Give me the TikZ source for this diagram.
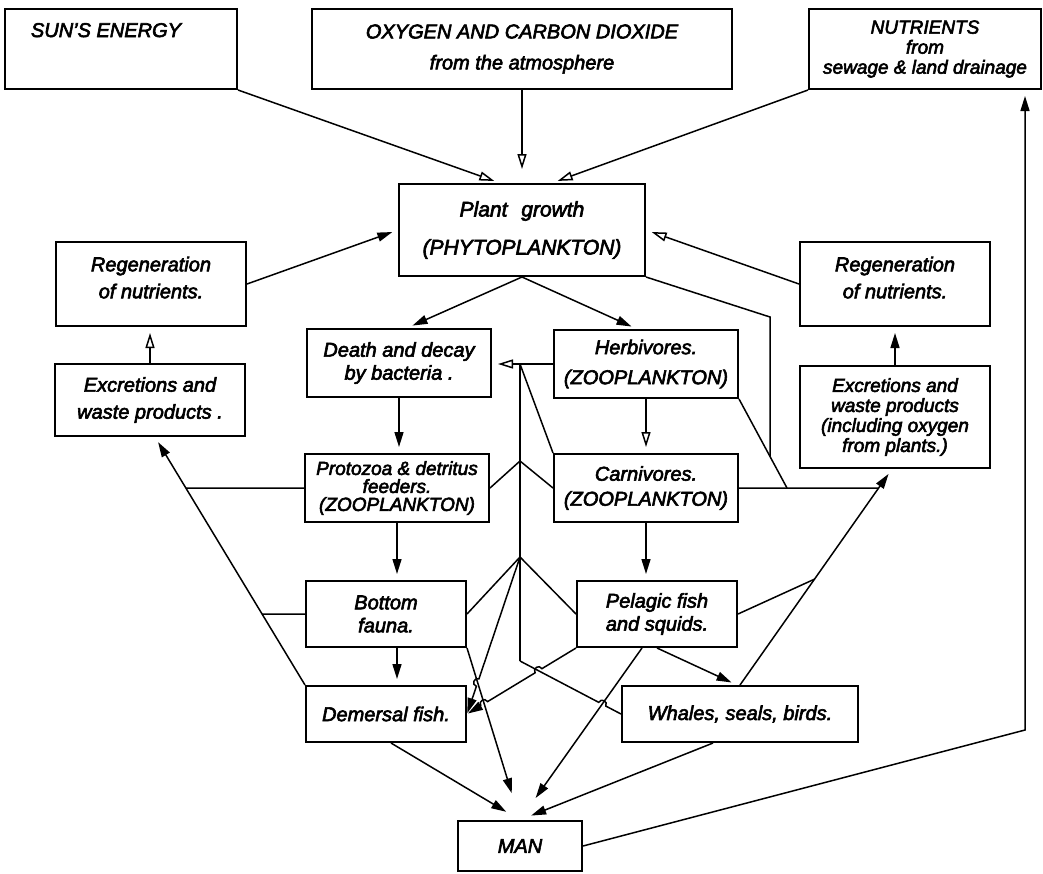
\documentclass[tikz,border=0pt]{standalone}
\usepackage{fontspec}
\setmainfont{Liberation Sans}[ItalicFeatures={FakeBold=3}]
\usepackage{tikz}
\usetikzlibrary{arrows.meta,calc}
\tikzset{
  box/.style={draw, line width=2pt, inner sep=0pt, align=center,
    font=\fontsize{20}{23}\selectfont\itshape},
  link/.style={line width=1.5pt},
  arr/.style={link, -{Triangle[length=15pt,width=9pt]}, shorten >=6pt},
  oarr/.style={link, -{Triangle[open,length=15pt,width=9pt]}, shorten >=6pt},
  hopL/.style={bend left=90, looseness=1.7},
  hopR/.style={bend right=90, looseness=1.7}
}

\begin{document}
\begin{tikzpicture}[x=1pt, y=-1pt]
        \useasboundingbox (0,0) rectangle (1043,873);
        % sources at the top
        \node[box, minimum width=232pt, minimum height=80pt] (sun) at (121,49) {SUN'S ENERGY\hspace*{30pt}\\[8pt]\strut};
        \node[box, minimum width=420pt, minimum height=80pt] (atmos) at (522,49) {OXYGEN AND CARBON DIOXIDE\\[8pt]from the atmosphere};
        \node[box, minimum width=232pt, minimum height=80pt, font=\fontsize{19}{20}\selectfont\itshape] (nutri) at (925,49) {NUTRIENTS\\from\\sewage \& land drainage};
        % plankton and the food chain
        \node[box, minimum width=246pt, minimum height=92pt, font=\fontsize{21}{24}\selectfont\itshape] (plant) at (522,230) {Plant\hspace{8pt} growth\\[14pt](PHYTOPLANKTON)};
        \node[box, minimum width=190pt, minimum height=84pt] (regenL) at (151,284) {Regeneration\\[4pt]of nutrients.\\[-10pt]};
        \node[box, minimum width=190pt, minimum height=84pt] (regenR) at (895,284) {Regeneration\\[4pt]of nutrients.\\[-10pt]};
        \node[box, minimum width=190pt, minimum height=72pt] (excrL) at (150,400) {Excretions and\\[4pt]waste products .};
        \node[box, minimum width=184pt, minimum height=68pt] (decay) at (399,363) {Death and decay\\by bacteria .};
        \node[box, minimum width=184pt, minimum height=68pt] (herbi) at (646,364) {Herbivores.\\[7pt](ZOOPLANKTON)};
        \node[box, minimum width=190pt, minimum height=102pt, font=\fontsize{19}{20}\selectfont\itshape] (excrR) at (895,417) {Excretions and\\waste products\\(including oxygen\\from plants.)};
        \node[box, minimum width=184pt, minimum height=68pt, font=\fontsize{19}{18}\selectfont\itshape] (proto) at (397,488) {Protozoa \& detritus\\feeders.\\(ZOOPLANKTON)};
        \node[box, minimum width=184pt, minimum height=68pt] (carni) at (646,488) {Carnivores.\\[2pt](ZOOPLANKTON)};
        \node[box, minimum width=160pt, minimum height=66pt] (bottom) at (386,614) {Bottom\\fauna.};
        \node[box, minimum width=160pt, minimum height=66pt] (pelagic) at (657,614) {Pelagic fish\\and squids.};
        \node[box, minimum width=160pt, minimum height=56pt] (demersal) at (386,714) {Demersal fish.};
        \node[box, minimum width=236pt, minimum height=56pt] (whales) at (740,714) {Whales, seals, birds.};
        \node[box, minimum width=124pt, minimum height=50pt] (man) at (520,846) {MAN};

        % into the phytoplankton
        \draw[oarr] (sun.south east) -- ([xshift=-22pt]plant.north);
        \draw[oarr, shorten >=14pt] (atmos.south) -- (plant.north);
        \draw[oarr] (nutri.south west) -- ([xshift=30pt]plant.north);
        \draw[arr] (regenL.east) -- (plant.west);
        \draw[oarr] (regenR.west) -- (plant.east);

        % the two chains
        \draw[arr] (plant.south) -- ([xshift=8pt]decay.north);
        \draw[arr] (plant.south) -- ([xshift=-9pt]herbi.north);
        \draw[arr] (decay.south) -- (decay.south |- proto.north);
        \draw[arr] (proto.south) -- (proto.south |- bottom.north);
        \draw[arr] (proto.south |- bottom.south) -- (proto.south |- demersal.north);
        \draw[oarr] (herbi.south) -- (carni.north);
        \draw[arr] (carni.south) -- (carni.south |- pelagic.north);
        \draw[arr] (pelagic.south) -- ([xshift=-3pt]whales.north);
        \draw[oarr] (excrL.north) -- (excrL.north |- regenL.south);
        \draw[arr] (excrR.north) -- (excrR.north |- regenR.south);

        % to man and back to the nutrients
        \draw[arr, shorten >=16pt] ([xshift=5pt]demersal.south) -- (man.north);
        \draw[arr, shorten >=28pt] (bottom.south east) -- (man.north);
        \coordinate (pelS) at ([xshift=-15pt]pelagic.south);
        \draw[arr, shorten >=27pt] (pelS) -- (man.north);
        \draw[arr, shorten >=12pt] ([xshift=-27pt]whales.south) -- (man.north);
        \coordinate (manturn) at (1025,730);
        \draw[arr] (man.east) -- (manturn) -- (manturn |- nutri.south);

        % left collector
        \coordinate (excrLin) at ([xshift=5pt]excrL.south);
        \draw[arr] (demersal.north west) -- (excrLin);
        \draw[link] (proto.west) -- (intersection of demersal.north west--excrLin and proto.west--proto.east);
        \draw[link] (bottom.west) -- (intersection of demersal.north west--excrLin and bottom.west--bottom.east);

        % right collector
        \coordinate (excrRin) at ([xshift=-3pt]excrR.south);
        \coordinate (kneeR) at (770,317);
        \coordinate (kneeRb) at (kneeR |- excrR.south);
        \coordinate (jR1) at ([xshift=48pt]carni.east);
        \coordinate (jR2) at (intersection of whales.north--excrRin and carni.west--carni.east);
        \coordinate (jR3) at ($(whales.north)!0.49!(excrRin)$);
        \draw[arr] (whales.north) -- (excrRin);
        \draw[link] (carni.east) -- (jR2);
        \draw[link] (herbi.south east) -- (jR1);
        \draw[link] (plant.south east) -- (kneeR) -- (intersection of kneeR--kneeRb and herbi.south east--jR1);
        \draw[link] (pelagic.east) -- (jR3);

        % middle collector to the bacteria
        \coordinate (jC0) at (man.north |- herbi.west);
        \coordinate (jC1) at ($(man.north |- proto.north)+(0,8)$);
        \coordinate (jC2) at ($(man.north |- bottom.north)+(0,-23)$);
        \coordinate (jC3) at ($(man.north |- demersal.north)+(0,-24)$);
        \draw[oarr] (herbi.west) -- (herbi.west -| decay.east);
        \draw[link] (carni.north west) -- (jC0);
        \draw[link] (jC0) -- (jC3);
        \draw[link] (proto.east) -- (jC1) -- (carni.west);
        \draw[link] (bottom.east) -- (jC2) -- (pelagic.west);

        % crossings
        \coordinate (h1) at (intersection of jC3--whales.west and pelS--man.north);
        \coordinate (h2) at (intersection of jC2--demersal.east and bottom.south east--man.north);
        \coordinate (h3) at (intersection of pelagic.south west--demersal.east and jC3--whales.west);
        \coordinate (h4) at (intersection of pelagic.south west--demersal.east and bottom.south east--man.north);
        \draw[link] (jC3) -- ($(h1)!4pt!(jC3)$) to[hopL] ($(h1)!4pt!(whales.west)$) -- (whales.west);
        \draw[arr, shorten >=1pt] (jC2) -- ($(h2)!4pt!(jC2)$) to[hopR] ($(h2)!4pt!(demersal.east)$) -- (demersal.east);
        \draw[arr, shorten >=1pt] (pelagic.south west) -- ($(h3)!4pt!(pelagic.south west)$) to[hopR] ($(h3)!4pt!(demersal.east)$)
            -- ($(h4)!4pt!(pelagic.south west)$) to[hopR] ($(h4)!4pt!(demersal.east)$) -- (demersal.east);
    \end{tikzpicture}
\end{document}
